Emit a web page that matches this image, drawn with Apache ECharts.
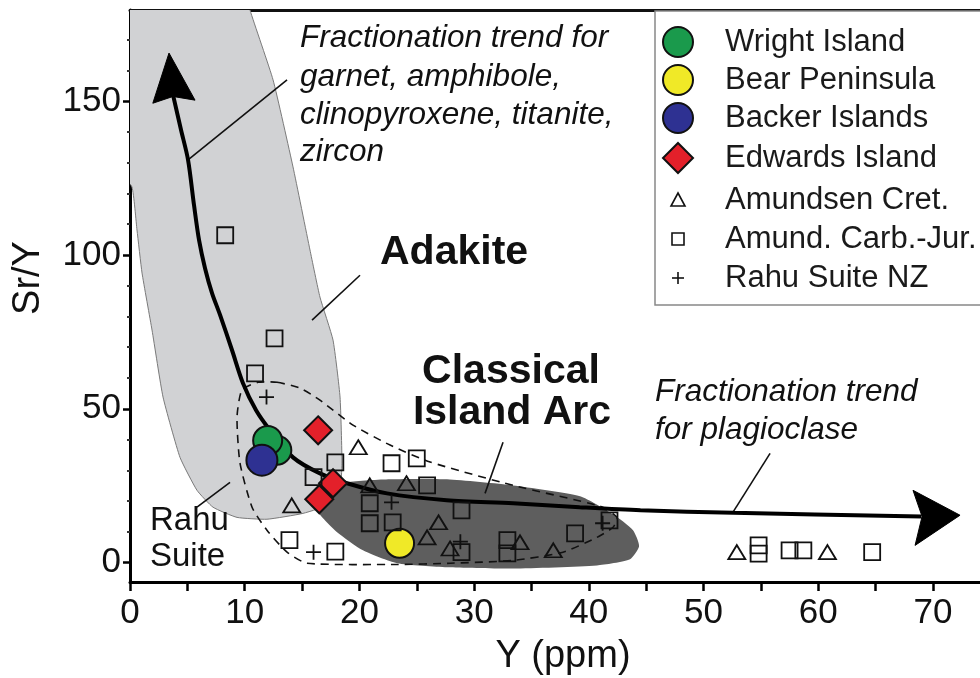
<!DOCTYPE html>
<html>
<head>
<meta charset="utf-8">
<script src="https://cdn.jsdelivr.net/npm/echarts@6/dist/echarts.min.js"></script>
<style>
  html, body { margin: 0; padding: 0; background: #fff; }
  #chart { width: 980px; height: 678px; }
</style>
</head>
<body>
<div id="chart"></div>
<script>
// Sr/Y vs Y (ppm) - adakite / classical island arc discrimination
const FONT = '"Liberation Sans", Arial, Helvetica, sans-serif';

// axis ticks
const xTickLabels = [0, 10, 20, 30, 40, 50, 60, 70];
const xTicks = [0, 5, 10, 15, 20, 25, 30, 35, 40, 45, 50, 55, 60, 65, 70];
const yTickLabels = [0, 50, 100, 150];
const yMinorTicks = [10, 20, 30, 40, 60, 70, 80, 90, 110, 120, 130, 140, 160, 170];

// samples [Y ppm, Sr/Y]
const wrightIsland = [[12.8, 36.5], [12.0, 39.7]];
const bearPeninsula = [[23.5, 6.3]];
const backerIslands = [[11.5, 33.3]];
const edwardsIsland = [[16.4, 43.0], [17.7, 25.8], [16.5, 20.6]];
const amundsenCret = [[19.9, 37.5], [14.1, 18.6], [20.9, 25.1], [24.1, 25.8], [26.9, 13.1],
  [25.9, 8.2], [27.9, 4.6], [34.0, 6.6], [36.9, 4.0], [52.9, 3.4], [60.8, 3.4]];
const amundCarbJur = [[8.3, 106.4], [12.6, 72.9], [10.9, 61.5], [17.9, 32.6], [16.0, 27.8],
  [22.8, 32.3], [25.0, 33.9], [20.9, 19.3], [20.9, 12.8], [22.9, 13.1], [13.9, 7.3],
  [17.9, 3.6], [25.9, 25.1], [28.9, 17.0], [28.9, 3.4], [32.9, 7.3], [32.9, 3.0],
  [38.8, 9.5], [41.8, 13.7], [54.8, 5.6], [54.8, 2.9], [57.5, 4.0], [58.7, 4.0], [64.7, 3.4]];
const rahuSuiteNZ = [[11.9, 53.8], [22.8, 19.6], [16.0, 3.4], [28.8, 6.8], [41.2, 12.8]];

// fields and trends (data units)
const adakiteField = [[-1, 182], [10.46, 182], [10.46, 179.6], [12.47, 156.9], [14.21, 128.6],
  [15.69, 101.6], [16.56, 86.3], [17.7, 72.3], [18.31, 53.8], [18.48, 32.3], [18.31, 23.5],
  [17.7, 19.3], [15.08, 16.0], [11.94, 14.1], [9.33, 14.7], [7.24, 18.0], [5.84, 23.5],
  [4.36, 34.2], [2.88, 53.8], [1.92, 75.6], [1.05, 94.1], [0.61, 108.1], [0.17, 122.1],
  [-1, 127.6]];
const arcField = [[16.2, 18.0], [17.44, 23.5], [18.92, 26.1], [22.67, 27.1], [27.64, 27.1],
  [33.39, 25.1], [39.23, 21.6], [42.11, 15.7], [43.85, 10.5], [44.38, 5.3], [43.59, 1.1],
  [40.71, -0.9], [33.39, -1.9], [27.64, -1.5], [23.28, -0.2], [20.31, 4.0], [18.05, 9.9],
  [16.6, 15.4]];
const rahuField = [[12.82, 58.6], [14.82, 56.7], [16.56, 52.8], [19.44, 44.7], [22.67, 38.2],
  [26.16, 32.7], [33.39, 25.1], [40.98, 18.3], [42.46, 14.7], [42.11, 11.5], [40.71, 8.2],
  [37.75, 3.4], [33.39, 0.7], [27.9, -0.2], [23.28, -0.6], [15.43, -0.2], [13.69, 3.4],
  [11.94, 10.5], [10.64, 18.0], [9.59, 32.3], [9.33, 47.3], [9.76, 56.1], [11.16, 58.6]];
const trendLine = [[3.75, 152], [4.45, 140.6], [5.06, 130.9], [5.58, 116.2], [6.02, 104.8],
  [6.54, 95.7], [7.15, 87.6], [7.85, 80.5], [8.89, 69.1], [9.85, 58.3], [10.99, 49.5],
  [12.21, 43.0], [14.21, 34.2], [16.56, 29.0], [18.92, 25.8], [22.4, 22.5], [27.6, 20.3],
  [33.4, 19.3], [39.2, 18], [44.5, 17], [52.6, 16.2], [69, 15]];
const arrowUp = [[3.4, 165.6], [5.67, 150.3], [3.75, 151.5], [1.99, 149.3]];
const arrowRight = [[72.36, 15.4], [68.44, 5.6], [69.05, 15.0], [68.26, 23.5]];
const leaders = [
  [[5.06, 130.9], [13.69, 156.9]],
  [[15.87, 78.8], [20.05, 93.4]],
  [[5.84, 18.0], [8.72, 26.1]],
  [[30.95, 22.5], [32.52, 39.1]],
  [[52.57, 16.4], [55.8, 35.5]]
];

const legendNames = ['Wright Island', 'Bear Peninsula', 'Backer Islands', 'Edwards Island',
  'Amundsen Cret.', 'Amund. Carb.-Jur.', 'Rahu Suite NZ'];
const colors = ['#1a9a4c', '#f0e927', '#2e3192', '#e3202a'];
const plusPath = 'path://M5,0L5,10M0,5L10,5';

function polygonSeries(points, style, z, smooth) {
  return {
    type: 'custom', z: z, silent: true, clip: true, data: [0],
    renderItem: function (params, api) {
      return {
        type: 'polygon',
        shape: { points: points.map(p => api.coord(p)), smooth: smooth || 0 },
        style: style
      };
    }
  };
}

function leaderSeries() {
  return {
    type: 'custom', z: 4, silent: true, data: leaders.map((l, i) => i),
    renderItem: function (params, api) {
      const seg = leaders[params.dataIndex];
      const a = api.coord(seg[0]), b = api.coord(seg[1]);
      return {
        type: 'line',
        shape: { x1: a[0], y1: a[1], x2: b[0], y2: b[1] },
        style: { stroke: '#111', lineWidth: 1.6 }
      };
    }
  };
}

function scatter(name, data, symbol, size, color, border) {
  return {
    type: 'scatter', name: name, data: data, symbol: symbol, symbolSize: size, z: 6,
    itemStyle: { color: color, borderColor: '#111', borderWidth: border, opacity: 1 },
    emphasis: { disabled: true }
  };
}

// legend drawn as graphics
const legendRows = [42, 80, 118, 158, 200, 239, 278];
const legendX = 678;
function legendIcon(i, y) {
  const s = { stroke: '#111', lineWidth: 2 };
  if (i < 3) return [{ type: 'circle', shape: { cx: legendX, cy: y, r: 15 }, style: Object.assign({ fill: colors[i] }, s) }];
  if (i === 3) return [{ type: 'polygon', shape: { points: [[legendX, y - 15], [legendX + 15, y], [legendX, y + 15], [legendX - 15, y]] }, style: Object.assign({ fill: colors[3] }, s) }];
  const t = { stroke: '#111', lineWidth: 1.6, fill: 'none' };
  if (i === 4) return [{ type: 'polygon', shape: { points: [[legendX, y - 7], [legendX + 7, y + 6], [legendX - 7, y + 6]] }, style: t }];
  if (i === 5) return [{ type: 'rect', shape: { x: legendX - 6, y: y - 6, width: 12, height: 12 }, style: t }];
  return [
    { type: 'line', shape: { x1: legendX - 6, y1: y, x2: legendX + 6, y2: y }, style: t },
    { type: 'line', shape: { x1: legendX, y1: y - 6, x2: legendX, y2: y + 6 }, style: t }
  ];
}
const legendGraphics = [{
  type: 'rect', shape: { x: 655, y: 11, width: 340, height: 294 },
  style: { fill: '#fff', stroke: '#888', lineWidth: 1.5 }, z: 50
}];
legendNames.forEach((n, i) => {
  legendIcon(i, legendRows[i]).forEach(ic => { ic.z = 51; legendGraphics.push(ic); });
  legendGraphics.push({
    type: 'text', x: 725, y: legendRows[i], z: 51,
    style: { text: n, fontSize: 31, fontFamily: FONT, fill: '#1a1a1a', verticalAlign: 'middle' }
  });
});

function label(text, x, y, size, weight, italic, align) {
  return {
    type: 'text', x: x, y: y, z: 40,
    style: {
      text: text, fontSize: size, fontWeight: weight || 'normal', fontStyle: italic ? 'italic' : 'normal',
      fontFamily: FONT, fill: '#111', verticalAlign: 'middle', align: align || 'left'
    }
  };
}
const annotations = [
  label('Fractionation trend for', 300, 38, 31.5, 'normal', true),
  label('garnet, amphibole,', 300, 77, 31.5, 'normal', true),
  label('clinopyroxene, titanite,', 300, 115, 31.5, 'normal', true),
  label('zircon', 300, 152, 31.5, 'normal', true),
  label('Adakite', 380, 253, 41, 'bold'),
  label('Classical', 511, 372, 41, 'bold', false, 'center'),
  label('Island Arc', 512, 413, 41, 'bold', false, 'center'),
  label('Fractionation trend', 655, 392, 31.5, 'normal', true),
  label('for plagioclase', 655, 430, 31.5, 'normal', true),
  label('Rahu', 150, 521, 33),
  label('Suite', 150, 557, 33)
];

const chart = echarts.init(document.getElementById('chart'), null, { renderer: 'canvas' });
chart.setOption({
  animation: false,
  backgroundColor: '#fff',
  grid: { left: 130, right: 0, top: 10, bottom: 96, containLabel: false, outerBoundsMode: 'none' },
  xAxis: [{
    type: 'value', min: 0, max: 74.1, position: 'bottom',
    axisLine: { onZero: false, lineStyle: { color: '#000', width: 3 } },
    axisTick: { customValues: xTicks, length: 9, lineStyle: { color: '#000', width: 2.5 } },
    axisLabel: { customValues: xTickLabels, fontSize: 35, color: '#111', fontFamily: FONT, margin: 14 },
    splitLine: { show: false },
    name: 'Y (ppm)', nameLocation: 'middle', nameGap: 56,
    nameTextStyle: { fontSize: 38, color: '#111', fontFamily: FONT, padding: [0, 0, 0, 16] }
  }, {
    type: 'value', min: 0, max: 74.1, position: 'top',
    axisLine: { onZero: false, lineStyle: { color: '#111', width: 3 } },
    axisTick: { show: false }, axisLabel: { show: false }, splitLine: { show: false }
  }],
  yAxis: [{
    type: 'value', min: -6.3, max: 179.6, position: 'left',
    axisLine: { onZero: false, lineStyle: { color: '#000', width: 3 } },
    axisTick: { customValues: yTickLabels, length: 7, lineStyle: { color: '#000', width: 2.5 } },
    axisLabel: { customValues: yTickLabels, fontSize: 35, color: '#111', fontFamily: FONT, margin: 9 },
    splitLine: { show: false },
    name: 'Sr/Y', nameLocation: 'middle', nameGap: 82,
    nameTextStyle: { fontSize: 38, color: '#111', fontFamily: FONT, padding: [0, 0, 0, 36] }
  }, {
    type: 'value', min: -6.3, max: 179.6, position: 'left',
    axisLine: { show: false },
    axisTick: { customValues: yMinorTicks, length: 3, lineStyle: { color: '#333', width: 2 } },
    axisLabel: { show: false }, splitLine: { show: false }
  }],
  series: [
    polygonSeries(adakiteField, { fill: '#d1d2d4', stroke: '#7a7a7a', lineWidth: 1 }, 1, 0.15),
    polygonSeries(arcField, { fill: '#5e5e5e', stroke: 'none' }, 2, 0.2),
    polygonSeries(rahuField, { fill: 'none', stroke: '#111', lineWidth: 1.6, lineDash: [8, 6] }, 3, 0.2),
    {
      type: 'line', data: trendLine, smooth: 0.3, showSymbol: false, z: 4, silent: true,
      lineStyle: { color: '#000', width: 4 }
    },
    polygonSeries(arrowUp, { fill: '#000', stroke: '#000', lineWidth: 1 }, 4),
    polygonSeries(arrowRight, { fill: '#000', stroke: '#000', lineWidth: 1 }, 4),
    leaderSeries(),
    scatter('Wright Island', wrightIsland, 'circle', 29, colors[0], 2),
    scatter('Bear Peninsula', bearPeninsula, 'circle', 29, colors[1], 2),
    scatter('Backer Islands', backerIslands, 'circle', 31, colors[2], 2),
    scatter('Edwards Island', edwardsIsland, 'diamond', [28, 28], colors[3], 2),
    scatter('Amundsen Cret.', amundsenCret, 'triangle', [17, 14], 'none', 1.8),
    scatter('Amund. Carb.-Jur.', amundCarbJur, 'rect', 16, 'none', 1.8),
    scatter('Rahu Suite NZ', rahuSuiteNZ, plusPath, 15, 'none', 1.8)
  ],
  graphic: annotations.concat(legendGraphics)
});
</script>
</body>
</html>
